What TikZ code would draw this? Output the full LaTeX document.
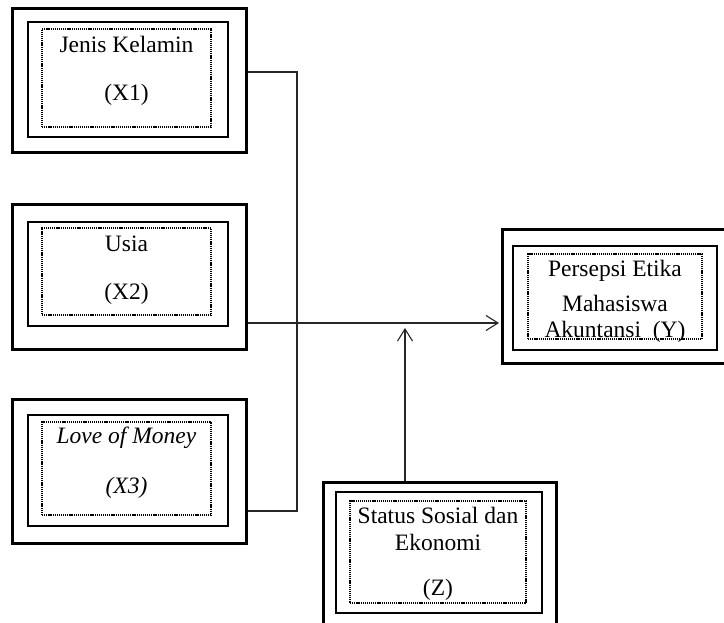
\documentclass[tikz,border=0pt]{standalone}
\usepackage{fontspec}
\setmainfont{Liberation Serif}
\usetikzlibrary{arrows.meta,fit}
\begin{document}
\begin{tikzpicture}[x=1pt,y=-1pt,
  outerbox/.style={draw,line width=3pt,inner sep=0pt},
  innerbox/.style={draw,line width=1.6pt,inner sep=0pt},
  dotbox/.style={draw,line width=1.3pt,dash pattern=on 1.2pt off 0.9pt,inner sep=0pt},
  lbl/.style={font=\fontsize{23.5}{27}\selectfont,inner sep=0pt},
  conn/.style={line width=1.1pt,draw=black!85},
  arr/.style={-{Straight Barb[length=12pt,width=15pt,line width=1.1pt]}}]
\useasboundingbox (0,0) rectangle (724,623);
\clip (0,0) rectangle (724,623);
% X1
\node[outerbox,fit={(12,9) (246,153)}] (x1) {};
\node[innerbox,fit={(28,22) (228,137)}] (x1i) {};
\node[dotbox,fit={(42,29) (211,127)}] (x1d) {};
\node[lbl] (x1a) at (126.5,44) {Jenis Kelamin};
\node[lbl] (x1b) at (126.5,95) {(X1)};
% X2
\node[outerbox,fit={(12,205) (246,349)}] (x2) {};
\node[innerbox,fit={(28,222) (228,326)}] (x2i) {};
\node[dotbox,fit={(42,228) (211,315)}] (x2d) {};
\node[lbl] (x2a) at (126.5,244) {Usia};
\node[lbl] (x2b) at (126.5,294) {(X2)};
% X3
\node[outerbox,fit={(12,399) (246,543)}] (x3) {};
\node[innerbox,fit={(28,415) (228,526)}] (x3i) {};
\node[dotbox,fit={(42,422) (211,515)}] (x3d) {};
\node[lbl,font=\fontsize{23.5}{27}\selectfont\itshape] (x3a) at (126.5,438) {Love of Money};
\node[lbl,font=\fontsize{23.5}{27}\selectfont\itshape] (x3b) at (126.5,488) {(X3)};
% Y
\node[outerbox,fit={(502,230) (740,363)}] (y) {};
\node[innerbox,fit={(513,246) (717,350)}] (yi) {};
\node[dotbox,fit={(528,254) (702,339)}] (yd) {};
\node[lbl] (ya) at (615,271) {Persepsi Etika};
\node[lbl] (yb) at (615,303) {Mahasiswa};
\node[lbl] (yc) at (615,332) {Akuntansi\ \ (Y)};
% Z
\node[outerbox,fit={(323,482) (556,650)}] (z) {};
\node[innerbox,fit={(336,492) (542,613)}] (zi) {};
\node[dotbox,fit={(350,501) (526,603)}] (zd) {};
\node[lbl] (za) at (438,515) {Status Sosial dan};
\node[lbl] (zb) at (438,542) {Ekonomi};
\node[lbl] (zc) at (438,590) {(Z)};
% connectors
\coordinate (j1) at (297,72);
\coordinate (j3) at (297,511);
\coordinate (m) at (405,323);
\coordinate (zt) at (405,328);
\draw[conn] (x1.east |- j1) -- (j1) -- (j3) -- (x3.east |- j3);
\draw[conn,arr] (x2.east |- m) -- ([xshift=-1.5pt]y.west |- m);
\draw[conn,arr] (z.north -| zt) -- (zt);
\end{tikzpicture}
\end{document}
